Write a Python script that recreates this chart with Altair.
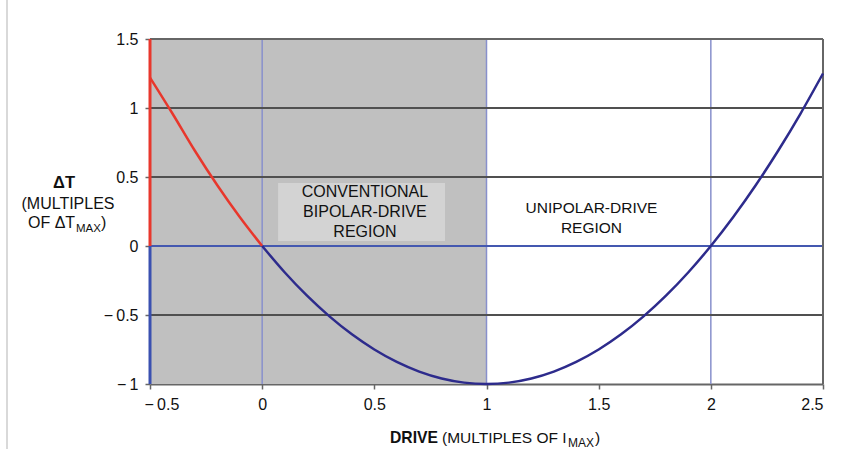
import altair as alt
import pandas as pd

# ---- data ----
red_x = [-0.5, -0.4, -0.3, -0.2, -0.1, 0.0]
red_y = [1.22, 0.96, 0.69, 0.44, 0.21, 0.0]
blue_x = [0.0, 0.1, 0.2, 0.3, 0.4, 0.5, 0.6, 0.7, 0.8, 0.9, 1.0, 1.1, 1.2, 1.3,
          1.4, 1.5, 1.6, 1.7, 1.8, 1.9, 2.0, 2.1, 2.2, 2.3, 2.4, 2.5]
blue_y = [0.0, -0.19, -0.36, -0.51, -0.64, -0.75, -0.84, -0.91, -0.96, -0.99, -1.0,
          -0.99, -0.96, -0.91, -0.84, -0.75, -0.64, -0.51, -0.36, -0.19, 0.0,
          0.21, 0.44, 0.69, 0.96, 1.25]
x_ticks = [-0.5, 0, 0.5, 1, 1.5, 2, 2.5]
y_ticks = [-1, -0.5, 0, 0.5, 1, 1.5]
dark_grid_y = [1, 0.5, -0.5]
blue_grid_y = [0]
vgrid_x = [0, 1, 2]
bipolar_lines = ["CONVENTIONAL", "BIPOLAR-DRIVE", "REGION"]
bipolar_y = [0.391, 0.246, 0.101]
unipolar_lines = ["UNIPOLAR-DRIVE", "REGION"]
unipolar_y = [0.273, 0.128]

FONT = "Liberation Sans"
XD = [-0.5, 2.5]
YD = [-1, 1.5]
LBL = 16

xs = alt.Scale(domain=XD, nice=False, zero=False)
ys = alt.Scale(domain=YD, nice=False, zero=False)

neg_expr = "datum.value < 0 ? '\u2212\u2009' + format(-datum.value, '~g') : format(datum.value, '~g')"

x_axis = alt.Axis(
    values=x_ticks, labelExpr=neg_expr, title=None, grid=False,
    labelFont=FONT, labelFontSize=LBL, labelColor="#111",
    labelOffset={"condition": {"test": "datum.value < 0", "value": -6}, "value": 0},
    domainColor="#666", domainWidth=2, tickColor="#666", tickWidth=1.5,
    tickSize=5, labelPadding=7)
y_axis = alt.Axis(
    values=y_ticks, labelExpr=neg_expr, title=None, grid=False, domain=False,
    labelFont=FONT, labelFontSize=LBL, labelColor="#111",
    tickColor="#666", tickWidth=1.5, tickSize=5, labelPadding=7)


def X(v):
    return alt.X(v, type="quantitative", scale=xs, axis=x_axis)


def Y(v):
    return alt.Y(v, type="quantitative", scale=ys, axis=y_axis)


one = pd.DataFrame({"a": [0]})

# shaded region
shade = alt.Chart(one).mark_rect(color="#c0c0c0").encode(
    x=X("x1:Q"), x2="x2:Q", y=Y("y1:Q"), y2="y2:Q",
).transform_calculate(x1="-0.5", x2="1", y1="-1", y2="1.5")

box = alt.Chart(one).mark_rect(color="#d3d3d3").encode(
    x=X("x1:Q"), x2="x2:Q", y=Y("y1:Q"), y2="y2:Q"
).transform_calculate(x1="0.071", x2="0.815", y1="0.036", y2="0.457")

vgrid = alt.Chart(pd.DataFrame({"x": vgrid_x})).mark_rule(
    color="#8890cc", strokeWidth=1.5).encode(x=X("x:Q"))

dgrid = alt.Chart(pd.DataFrame({"y": dark_grid_y})).mark_rule(
    color="#505050", strokeWidth=2).encode(y=Y("y:Q"))

bgrid = alt.Chart(pd.DataFrame({"y": blue_grid_y})).mark_rule(
    color="#4458b0", strokeWidth=2).encode(y=Y("y:Q"))

top_border = alt.Chart(pd.DataFrame({"y": [1.5]})).mark_rule(
    color="#666", strokeWidth=2).encode(y=Y("y:Q"))
right_border = alt.Chart(pd.DataFrame({"x": [2.5]})).mark_rule(
    color="#666", strokeWidth=2).encode(x=X("x:Q"))

left_red = alt.Chart(pd.DataFrame({"x": [-0.5], "y1": [0], "y2": [1.5]})).mark_rule(
    color="#e8372c", strokeWidth=3).encode(x=X("x:Q"), y=Y("y1:Q"), y2="y2:Q")
left_blue = alt.Chart(pd.DataFrame({"x": [-0.5], "y1": [-1], "y2": [0]})).mark_rule(
    color="#3a50b0", strokeWidth=3).encode(x=X("x:Q"), y=Y("y1:Q"), y2="y2:Q")

red_line = alt.Chart(pd.DataFrame({"x": red_x, "y": red_y})).mark_line(
    color="#e8372c", strokeWidth=2.5, interpolate="monotone").encode(
    x=X("x:Q"), y=Y("y:Q"), order="x:Q")
blue_line = alt.Chart(pd.DataFrame({"x": blue_x, "y": blue_y})).mark_line(
    color="#2d2b8c", strokeWidth=2.5, interpolate="monotone").encode(
    x=X("x:Q"), y=Y("y:Q"), order="x:Q")

bip_text = alt.Chart(pd.DataFrame({"t": bipolar_lines, "y": bipolar_y, "x": [0.458] * 3})).mark_text(
    font=FONT, fontSize=16, color="#111", align="center", baseline="middle").encode(
    x=X("x:Q"), y=Y("y:Q"), text="t:N")
uni_text = alt.Chart(pd.DataFrame({"t": unipolar_lines, "y": unipolar_y, "x": [1.468] * 2})).mark_text(
    font=FONT, fontSize=15.5, color="#111", align="center", baseline="middle").encode(
    x=X("x:Q"), y=Y("y:Q"), text="t:N")


def label(text, px, py, size=15, bold=False, align="left"):
    return alt.Chart(pd.DataFrame({"t": [text]})).mark_text(
        font=FONT, fontSize=size, color="#111", align=align, baseline="middle",
        fontWeight="bold" if bold else "normal").encode(
        x=alt.value(px - 150), y=alt.value(py - 39), text="t:N")


titles = [
    label("\u0394T", 64, 183, 16.5, True, "center"),
    label("(MULTIPLES", 68, 204, 16, False, "center"),
    label("OF \u0394T", 28, 223, 16, False, "left"),
    label("MAX", 76, 229, 11.5, False, "left"),
    label(")", 101, 223, 16, False, "left"),
    label("DRIVE", 390, 438, 15.7, True, "left"),
    label("(MULTIPLES OF I", 442, 438, 15.5, False, "left"),
    label("MAX", 568, 442.5, 12, False, "left"),
    label(")", 595, 438, 15.5, False, "left"),
]

frame = alt.Chart(one).mark_rule(color="#cccccc", strokeWidth=1.5).encode(
    x=alt.value(7 - 150), y=alt.value(-39), y2=alt.value(449 - 39))

chart = alt.layer(
    shade, box, vgrid, dgrid, bgrid, top_border, right_border,
    left_blue, left_red, red_line, blue_line, bip_text, uni_text, frame, *titles
).properties(
    width=673, height=345,
    autosize=alt.AutoSizeParams(type="none"),
    padding={"left": 150, "top": 39, "right": 24, "bottom": 65},
    background="white",
).configure_view(stroke=None).configure_axis(
    labelFont=FONT, labelFontSize=LBL, labelColor="#111"
)

chart.save("out.html", embed_options={"renderer": "svg", "actions": False})
